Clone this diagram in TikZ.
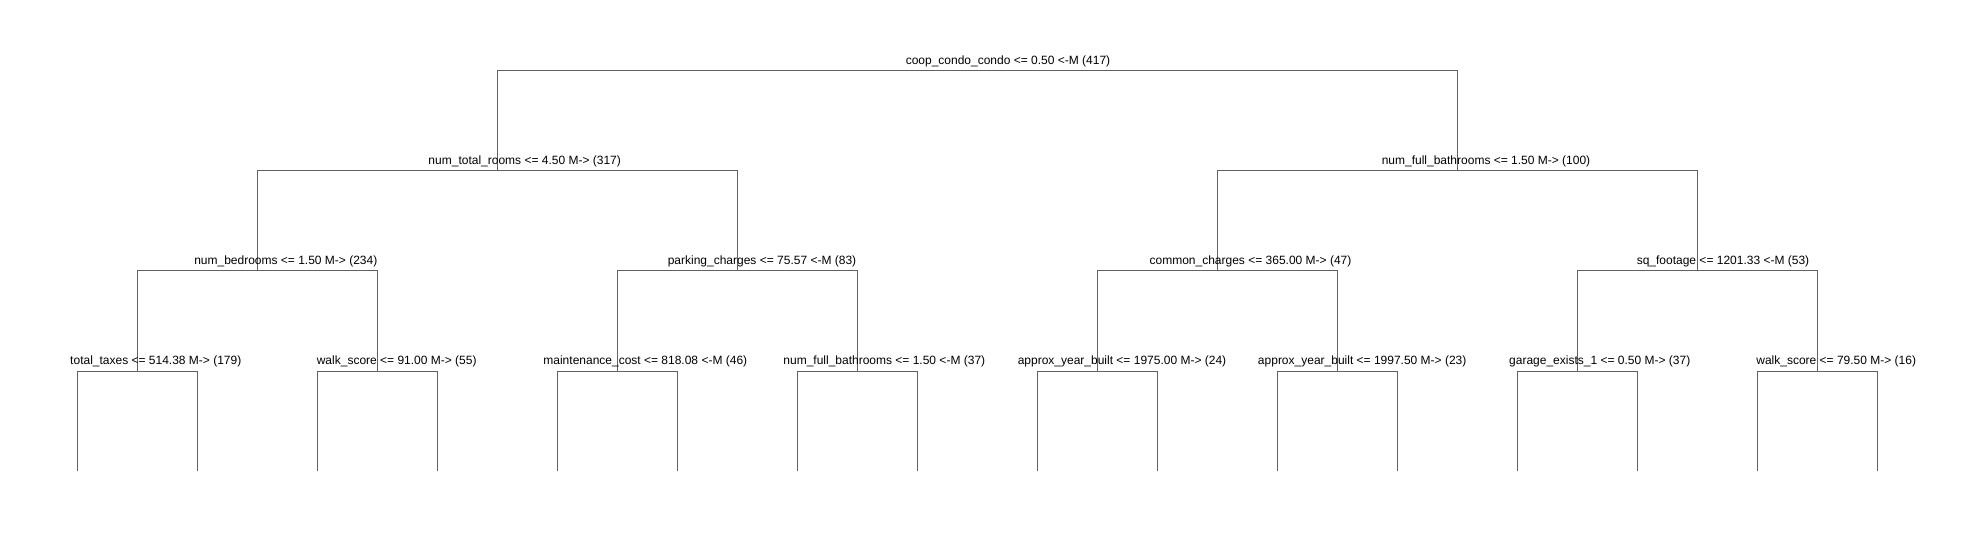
\documentclass[tikz,border=0pt]{standalone}
\usepackage{fontspec}
\setmainfont{Liberation Sans}
\begin{document}
\begin{tikzpicture}[x=1pt,y=-1pt,
  edge/.style={draw=black!62,line width=1pt},
  lbl/.style={anchor=base,inner sep=0pt,font=\fontsize{12pt}{14pt}\selectfont,text=black}]
\useasboundingbox (0,0) rectangle (1986,540);
% tree node positions
\coordinate (n0) at (977.3,70.7);
\coordinate (n1) at (497.3,170.7);
\coordinate (n2) at (1457.3,170.7);
\coordinate (n3) at (257.3,270.7);
\coordinate (n4) at (737.3,270.7);
\coordinate (n5) at (1217.3,270.7);
\coordinate (n6) at (1697.3,270.7);
\foreach \j in {0,...,7}{
  \pgfmathsetmacro{\xx}{137.3+240*\j}
  \pgfmathtruncatemacro{\k}{7+\j}
  \coordinate (n\k) at (\xx,371.2);
}
\foreach \i in {0,...,15}{
  \pgfmathsetmacro{\xx}{77.3+120*\i}
  \coordinate (l\i) at (\xx,470.7);
}
% connectors
\draw[edge] (n1) |- (n0) -| (n2);
\draw[edge] (n3) |- (n1) -| (n4);
\draw[edge] (n5) |- (n2) -| (n6);
\draw[edge] (n7) |- (n3) -| (n8);
\draw[edge] (n9) |- (n4) -| (n10);
\draw[edge] (n11) |- (n5) -| (n12);
\draw[edge] (n13) |- (n6) -| (n14);
\foreach \j in {0,...,7}{
  \pgfmathtruncatemacro{\k}{7+\j}
  \pgfmathtruncatemacro{\a}{2*\j}
  \pgfmathtruncatemacro{\b}{2*\j+1}
  \draw[edge] (l\a) |- (n\k) -| (l\b);
}
% labels
\node[lbl] (t0) at (1008,64.5) {coop\_condo\_condo <= 0.50 <-M (417)};
\node[lbl] (t1) at (524.7,164.5) {num\_total\_rooms <= 4.50 M-> (317)};
\node[lbl] (t2) at (1486,164.5) {num\_full\_bathrooms <= 1.50 M-> (100)};
\node[lbl] (t3) at (285.8,264.5) {num\_bedrooms <= 1.50 M-> (234)};
\node[lbl] (t4) at (762,264.5) {parking\_charges <= 75.57 <-M (83)};
\node[lbl] (t5) at (1250.5,264.5) {common\_charges <= 365.00 M-> (47)};
\node[lbl] (t6) at (1723,264.5) {sq\_footage <= 1201.33 <-M (53)};
\node[lbl] (t7) at (155.8,364.5) {total\_taxes <= 514.38 M-> (179)};
\node[lbl] (t8) at (396.7,364.5) {walk\_score <= 91.00 M-> (55)};
\node[lbl] (t9) at (645.3,364.5) {maintenance\_cost <= 818.08 <-M (46)};
\node[lbl] (t10) at (884.3,364.5) {num\_full\_bathrooms <= 1.50 <-M (37)};
\node[lbl] (t11) at (1122,364.5) {approx\_year\_built <= 1975.00 M-> (24)};
\node[lbl] (t12) at (1362.2,364.5) {approx\_year\_built <= 1997.50 M-> (23)};
\node[lbl] (t13) at (1599.7,364.5) {garage\_exists\_1 <= 0.50 M-> (37)};
\node[lbl] (t14) at (1836.2,364.5) {walk\_score <= 79.50 M-> (16)};
\end{tikzpicture}
\end{document}
